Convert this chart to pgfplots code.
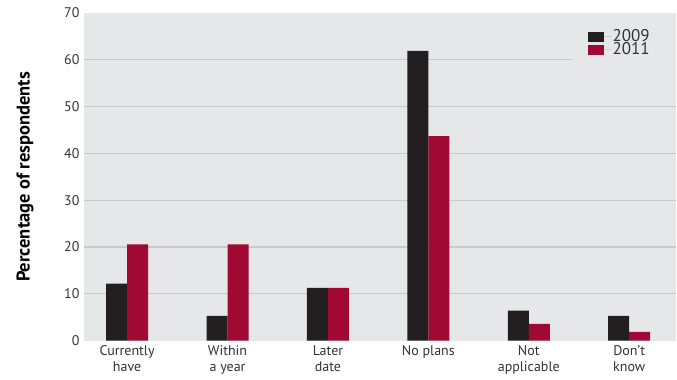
\documentclass[border=0pt]{standalone}
\usepackage{pgfplots}
\pgfplotsset{compat=1.18}
\usepackage{fontspec}
\setmainfont{PT Sans}
\definecolor{bg}{HTML}{E6E7E9}
\definecolor{gridc}{HTML}{C9CACC}
\definecolor{c09}{HTML}{231F20}
\definecolor{c11}{HTML}{A00933}
\definecolor{txt}{HTML}{333333}
\begin{document}
\begin{tikzpicture}
\begin{axis}[
  at={(84pt,39pt)}, anchor=south west,
  scale only axis, width=593pt, height=328pt,
  xmin=-0.43, xmax=5.47, ymin=0, ymax=70,
  axis background/.style={fill=bg},
  axis line style={draw=none},
  major tick length=0pt,
  ytick={10,20,...,60},
  extra y ticks={0,70},
  extra y tick style={grid=none},
  ymajorgrids,
  grid style={draw=gridc, line width=1.2pt},
  xtick={0,...,5},
  xticklabels={Currently\\have, Within\\a year, Later\\date, No plans, Not\\applicable, Don't\\know},
  xticklabel style={align=center, anchor=north, font=\fontsize{14}{16}\selectfont, text=txt, yshift=-1pt},
  yticklabel style={font=\fontsize{14}{16}\selectfont, text=txt, xshift=-1pt},
  /pgf/number format/assume math mode=true,
  ylabel={\textbf{Percentage of respondents}},
  every axis y label/.style={at={(axis description cs:0,0.5)}, rotate=90, anchor=center, yshift=59pt, font=\fontsize{18.5}{20}\selectfont},
  ybar=0pt, bar width=21pt,
  legend style={at={(rel axis cs:0.823,0.975)}, anchor=north west, fill=bg, draw=none,
    font=\fontsize{17}{13}\selectfont, text=txt, inner xsep=16pt, inner ysep=9pt,
    row sep=0pt, nodes={inner sep=1pt, text width=46pt, text height=10pt, text depth=1pt}},
  legend cell align=left,
  legend image code/.code={\fill[#1] (0pt,-5pt) rectangle (16pt,5pt); \path (0pt,0pt) -- (24pt,0pt);},
]
\addplot[fill=c09, draw=none] coordinates {(0,12.2) (1,5.3) (2,11.3) (3,61.9) (4,6.4) (5,5.3)};
\addplot[fill=c11, draw=none] coordinates {(0,20.6) (1,20.6) (2,11.3) (3,43.7) (4,3.6) (5,1.9)};
\legend{2009,2011}
\end{axis}
\path (0pt,0pt) rectangle (677pt,380pt);
\end{tikzpicture}
\end{document}
